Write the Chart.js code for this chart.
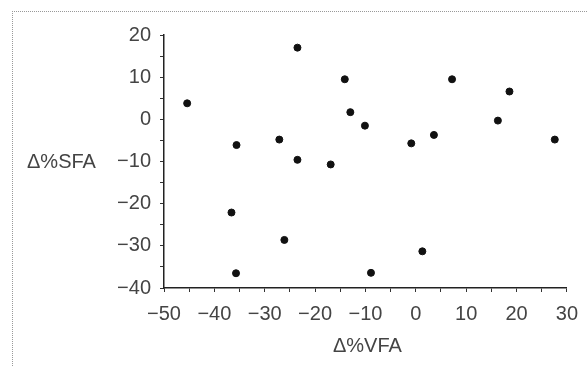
<!DOCTYPE html>
<html>
<head>
<meta charset="utf-8">
<script src="https://cdn.jsdelivr.net/npm/chart.js@4/dist/chart.umd.min.js"></script>
<style>
    html, body { margin: 0; padding: 0; background: #fff; }
    #wrap { width: 588px; height: 366px; }
</style>
</head>
<body>
<div id="wrap"><canvas id="chart" width="588" height="366"></canvas></div>
<script>
const vfa = [
    -45.4, -35.6, -27.1, -23.5, -23.5,
    -14.1, -13.0, -10.1, -16.9, 7.2,
    3.6, -0.9, 18.6, 16.3, 27.6,
    -36.6, -26.1, -35.7, 1.3, -8.9,
];
const sfa = [
    3.8, -6.1, -4.8, -9.6, 17.0,
    9.5, 1.7, -1.5, -10.7, 9.5,
    -3.7, -5.7, 6.6, -0.3, -4.8,
    -22.1, -28.6, -36.5, -31.3, -36.4,
];

const xTickValues = [-50, -40, -30, -20, -10, 0, 10, 20, 30];
const xTickLabels = ['\u221250', '\u221240', '\u221230', '\u221220', '\u221210', '0', '10', '20', '30'];
const yTickValues = [-40, -30, -20, -10, 0, 10, 20];
const yTickLabels = ['\u221240', '\u221230', '\u221220', '\u221210', '0', '10', '20'];

const textColor = '#444';
const fontFamily = '"Liberation Sans", Arial, sans-serif';

function tickText(values, labels) {
    return function(value) {
        const i = values.indexOf(value);
        return i >= 0 ? labels[i] : '';
    };
}

// horizontal axis titles and the dotted frame of the scan
const decorations = {
    id: 'decorations',
    afterDraw(chart) {
        const ctx = chart.ctx;
        ctx.save();
        ctx.strokeStyle = '#999';
        ctx.lineWidth = 1;
        ctx.setLineDash([1, 1]);
        ctx.beginPath();
        ctx.moveTo(12, 11.5);
        ctx.lineTo(588, 11.5);
        ctx.moveTo(12.5, 11);
        ctx.lineTo(12.5, 366);
        ctx.stroke();
        ctx.setLineDash([]);

        ctx.fillStyle = textColor;
        ctx.font = '20px ' + fontFamily;
        ctx.textBaseline = 'middle';
        ctx.textAlign = 'center';
        const xs = chart.scales.x;
        ctx.fillText('\u0394%VFA', (xs.left + xs.right) / 2 + 2, 346);
        ctx.textAlign = 'left';
        ctx.fillText('\u0394%SFA', 27, chart.scales.y.getPixelForValue(-10) + 1);
        ctx.restore();
    }
};

const ctx = document.getElementById('chart').getContext('2d');
const chart = new Chart(ctx, {
    type: 'scatter',
    data: {
        datasets: [{
            data: vfa.map((x, i) => ({ x: x, y: sfa[i] })),
            backgroundColor: '#111',
            borderColor: '#111',
            pointRadius: 3.5,
            pointHoverRadius: 3.5,
        }],
    },
    options: {
        responsive: false,
        animation: false,
        layout: {
            padding: { top: 35, right: 21, left: 0, bottom: 0 },
        },
        plugins: {
            legend: { display: false },
            tooltip: { enabled: false },
        },
        scales: {
            x: {
                type: 'linear',
                min: -50,
                max: 30,
                afterFit: (scale) => { scale.height = 78; },
                grid: {
                    drawOnChartArea: false,
                    tickLength: 4,
                    tickColor: '#333',
                },
                border: { color: '#222', width: 1.5 },
                ticks: {
                    stepSize: 5,
                    autoSkip: false,
                    maxRotation: 0,
                    padding: 10,
                    color: textColor,
                    font: { family: fontFamily, size: 20 },
                    callback: tickText(xTickValues, xTickLabels),
                },
            },
            y: {
                type: 'linear',
                min: -40,
                max: 20,
                afterFit: (scale) => { scale.width = 164; },
                grid: {
                    drawOnChartArea: false,
                    tickLength: 4,
                    tickColor: '#333',
                },
                border: { color: '#222', width: 1.5 },
                ticks: {
                    stepSize: 5,
                    autoSkip: false,
                    padding: 9,
                    color: textColor,
                    font: { family: fontFamily, size: 20 },
                    callback: tickText(yTickValues, yTickLabels),
                },
            },
        },
    },
    plugins: [decorations],
});
</script>
</body>
</html>
